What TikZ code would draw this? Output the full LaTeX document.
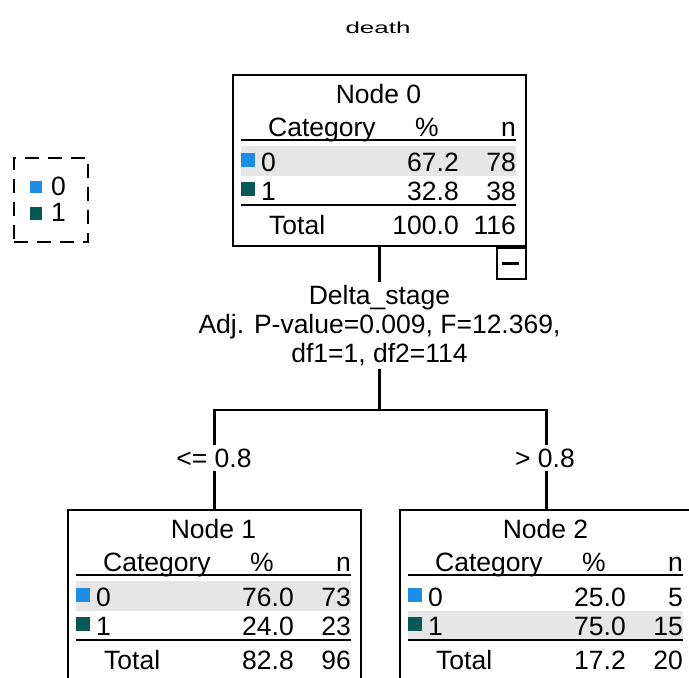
\documentclass[tikz,border=0pt]{standalone}
\usepackage{fontspec}
\usepackage{graphicx}
\setmainfont{Liberation Sans}

\definecolor{catblue}{RGB}{28,142,232}
\definecolor{catteal}{RGB}{8,88,86}
\definecolor{bandgray}{RGB}{230,230,230}

\newcommand\treefont{\fontsize{26.5}{29}\selectfont}

\tikzset{
  treebox/.style={draw=black, line width=2pt, fill=white, inner sep=0pt,
    anchor=north west, minimum width=293pt, minimum height=171pt},
  txt/.style={inner sep=0pt, font=\treefont},
  tablerule/.style={line width=2.6pt},
  conn/.style={line width=2.4pt},
  edgelabel/.style={txt, fill=white, inner xsep=2pt, inner ysep=4pt, anchor=base},
}

% One tree node: #1 name, #2 title, #3 top of the shaded row,
% #4/#5 percent and count of category 0, #6/#7 of category 1,
% #8/#9 total percent and count
\newcommand\treenodebody[9]{%
  \node[treebox] (#1) at (0,0) {};
  \fill[bandgray] (9,#3) rectangle (284,#3+30);
  \node[txt, anchor=base] (#1-title) at (146.5,29) {#2};
  \node[txt, anchor=base west] (#1-cat) at (36,62) {Category};
  \node[txt, anchor=base] (#1-pcthead) at (195,62) {\%};
  \node[txt, anchor=base east] (#1-nhead) at (284,62) {n};
  \draw[tablerule] (9,66) -- (284,66);
  \fill[catblue] (9,79) rectangle (23,93);
  \node[txt, anchor=base west] (#1-c0) at (29,97) {0};
  \node[txt, anchor=base east] (#1-p0) at (227,97) {#4};
  \node[txt, anchor=base east] (#1-n0) at (284,97) {#5};
  \fill[catteal] (9,108) rectangle (23,122);
  \node[txt, anchor=base west] (#1-c1) at (29,126) {1};
  \node[txt, anchor=base east] (#1-p1) at (227,126) {#6};
  \node[txt, anchor=base east] (#1-n1) at (284,126) {#7};
  \draw[tablerule] (9,131) -- (284,131);
  \node[txt, anchor=base west] (#1-tot) at (37,160) {Total};
  \node[txt, anchor=base east] (#1-ptot) at (227,160) {#8};
  \node[txt, anchor=base east] (#1-ntot) at (284,160) {#9};
}

\begin{document}
\begin{tikzpicture}[x=1pt, y=-1pt]
  \useasboundingbox (0,0) rectangle (689,678);
  \clip (0,0) rectangle (689,678);
  \fill[white] (0,0) rectangle (689,678);

  % dependent variable
  \node[inner sep=0pt, anchor=base, font=\fontsize{16}{18}\selectfont]
    (title) at (378,33) {\scalebox{1.62}[1]{death}};

  % legend
  \node[draw, line width=2pt, dash pattern=on 14pt off 9pt, anchor=north west,
    minimum width=74pt, minimum height=84pt, inner sep=0pt] (legend) at (13,157) {};
  \fill[catblue] (30,181) rectangle (42,193);
  \node[txt, anchor=base west] (legend-0) at (51,195) {0};
  \fill[catteal] (30,207) rectangle (42,220);
  \node[txt, anchor=base west] (legend-1) at (51,221) {1};

  % tree nodes
  \begin{scope}[shift={(232,74)}]
    \treenodebody{n0}{Node 0}{72}{67.2}{78}{32.8}{38}{100.0}{116}
  \end{scope}
  \begin{scope}[shift={(67,509)}]
    \treenodebody{n1}{Node 1}{72}{76.0}{73}{24.0}{23}{82.8}{96}
  \end{scope}
  \begin{scope}[shift={(399,509)}]
    \treenodebody{n2}{Node 2}{102}{25.0}{5}{75.0}{15}{17.2}{20}
  \end{scope}

  % collapse toggle under the root
  \node[draw, line width=2pt, fill=white, anchor=north east, inner sep=0pt,
    minimum width=29pt, minimum height=31pt] (toggle) at (n0.south east) {};
  \draw[line width=3pt] (toggle.west) ++(6,0) -- ++(17,0);

  % split variable and statistics
  \node[txt, align=center, anchor=north, inner sep=3pt] (split) at (379.5,282)
    {Delta\_stage\\Adj. P-value=0.009, F=12.369,\\df1=1, df2=114};

  % connectors
  \coordinate (fork) at (n0.south |- 0,410);
  \draw[conn] (n0.south) -- (n0.south |- split.north);
  \draw[conn] (fork |- split.south) -- (fork);
  \draw[conn] (fork) -| (n1.north);
  \draw[conn] (fork) -| (n2.north);

  % split conditions
  \node[edgelabel] (e1) at (214,467) {<= 0.8};
  \node[edgelabel] (e2) at (545,467) {> 0.8};
\end{tikzpicture}
\end{document}
